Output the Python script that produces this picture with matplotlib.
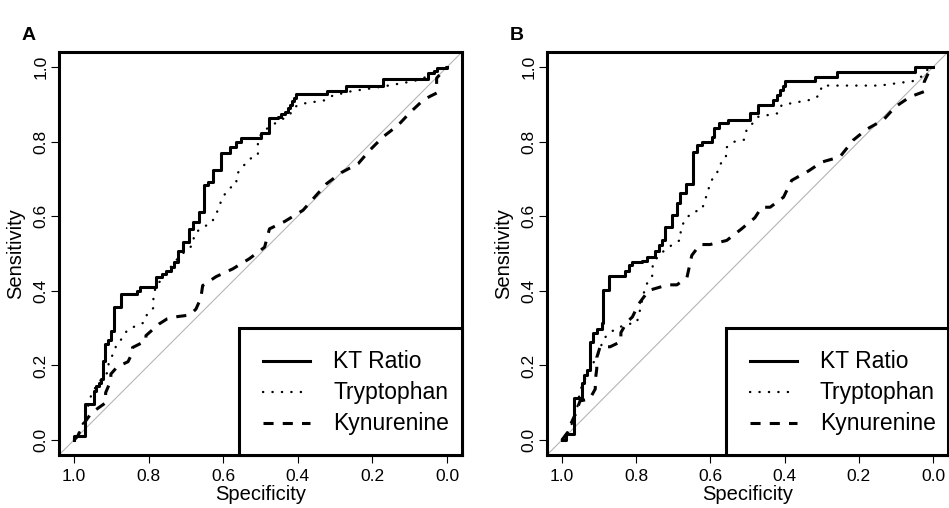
import matplotlib
matplotlib.use("Agg")
import matplotlib.pyplot as plt
from matplotlib.patches import Rectangle

plt.rcParams['font.family'] = ['Liberation Sans', 'DejaVu Sans']

# ---------------- data (specificity, sensitivity) ----------------
# Panel A
a_kt_spec = [1.0, 1.0, 0.970, 0.946, 0.940, 0.933, 0.928, 0.922, 0.917, 0.908, 0.901, 0.892, 0.875,
             0.830, 0.823, 0.780, 0.763, 0.754, 0.740, 0.731, 0.722, 0.709, 0.691, 0.682, 0.666,
             0.651, 0.642, 0.628, 0.606, 0.583, 0.565, 0.552, 0.498, 0.476, 0.452, 0.444, 0.435,
             0.426, 0.422, 0.415, 0.410, 0.404, 0.323, 0.270, 0.171, 0.050, 0.035, 0.028, 0.0]
a_kt_sens = [0.0, 0.010, 0.098, 0.132, 0.145, 0.154, 0.163, 0.212, 0.258, 0.269, 0.293, 0.356, 0.392,
             0.400, 0.409, 0.436, 0.445, 0.454, 0.463, 0.477, 0.508, 0.530, 0.566, 0.584, 0.611,
             0.683, 0.691, 0.723, 0.768, 0.786, 0.799, 0.809, 0.822, 0.862, 0.866, 0.873, 0.880,
             0.890, 0.898, 0.910, 0.918, 0.927, 0.935, 0.950, 0.968, 0.983, 0.990, 0.996, 1.0]

a_try_spec = [1.0, 0.99, 0.978, 0.965, 0.953, 0.940, 0.925, 0.910, 0.906, 0.892, 0.886, 0.870, 0.857,
              0.834, 0.812, 0.803, 0.787, 0.787, 0.780, 0.763, 0.731, 0.700, 0.682, 0.677, 0.655,
              0.633, 0.619, 0.610, 0.601, 0.585, 0.565, 0.564, 0.548, 0.530, 0.507, 0.507, 0.498,
              0.476, 0.450, 0.422, 0.409, 0.384, 0.325, 0.307, 0.256, 0.200, 0.146, 0.089, 0.050,
              0.030, 0.0]
a_try_sens = [0.0, 0.010, 0.038, 0.080, 0.123, 0.145, 0.165, 0.181, 0.212, 0.235, 0.257, 0.273, 0.295,
              0.306, 0.315, 0.340, 0.354, 0.385, 0.414, 0.432, 0.477, 0.508, 0.522, 0.553, 0.571,
              0.580, 0.604, 0.629, 0.651, 0.674, 0.685, 0.712, 0.732, 0.753, 0.763, 0.795, 0.822,
              0.840, 0.855, 0.871, 0.893, 0.902, 0.911, 0.923, 0.935, 0.943, 0.952, 0.962, 0.975,
              0.990, 1.0]

a_kyn_spec = [1.0, 0.99, 0.978, 0.955, 0.946, 0.915, 0.915, 0.901, 0.901, 0.885, 0.870, 0.855, 0.843,
              0.843, 0.807, 0.807, 0.772, 0.750, 0.722, 0.690, 0.673, 0.660, 0.655, 0.619, 0.574,
              0.530, 0.489, 0.476, 0.435, 0.386, 0.355, 0.323, 0.283, 0.238, 0.207, 0.171, 0.131,
              0.099, 0.064, 0.046, 0.028, 0.028, 0.010, 0.0]
a_kyn_sens = [0.0, 0.010, 0.038, 0.070, 0.078, 0.100, 0.127, 0.160, 0.177, 0.195, 0.203, 0.210, 0.235,
              0.248, 0.266, 0.280, 0.311, 0.325, 0.331, 0.335, 0.351, 0.380, 0.414, 0.438, 0.459,
              0.486, 0.517, 0.566, 0.586, 0.616, 0.651, 0.687, 0.717, 0.741, 0.777, 0.813, 0.844,
              0.878, 0.911, 0.921, 0.930, 0.970, 0.990, 1.0]

# Panel B
b_kt_spec = [1.0, 0.99, 0.968, 0.946, 0.940, 0.933, 0.924, 0.915, 0.906, 0.892, 0.888, 0.874, 0.829,
             0.820, 0.811, 0.785, 0.772, 0.749, 0.738, 0.731, 0.722, 0.704, 0.691, 0.682, 0.666,
             0.646, 0.637, 0.623, 0.596, 0.590, 0.576, 0.552, 0.493, 0.471, 0.430, 0.420, 0.412,
             0.405, 0.399, 0.318, 0.260, 0.049, 0.0]
b_kt_sens = [0.0, 0.016, 0.114, 0.154, 0.175, 0.187, 0.264, 0.288, 0.298, 0.315, 0.401, 0.441, 0.452,
             0.468, 0.477, 0.481, 0.490, 0.508, 0.522, 0.537, 0.571, 0.602, 0.634, 0.661, 0.687,
             0.772, 0.790, 0.799, 0.813, 0.835, 0.849, 0.859, 0.876, 0.898, 0.911, 0.925, 0.937,
             0.950, 0.962, 0.974, 0.987, 1.0, 1.0]

b_try_spec = [1.0, 0.985, 0.970, 0.960, 0.951, 0.935, 0.920, 0.906, 0.895, 0.888, 0.870, 0.852, 0.825,
              0.798, 0.791, 0.780, 0.771, 0.757, 0.755, 0.739, 0.718, 0.700, 0.680, 0.680, 0.668,
              0.648, 0.623, 0.615, 0.606, 0.599, 0.583, 0.576, 0.558, 0.558, 0.538, 0.509, 0.502,
              0.486, 0.473, 0.417, 0.408, 0.324, 0.305, 0.300, 0.143, 0.100, 0.055, 0.030, 0.020, 0.0]
b_try_sens = [0.0, 0.020, 0.050, 0.078, 0.132, 0.170, 0.200, 0.221, 0.250, 0.271, 0.288, 0.300, 0.310,
              0.315, 0.342, 0.392, 0.419, 0.436, 0.472, 0.495, 0.513, 0.525, 0.537, 0.566, 0.591,
              0.611, 0.617, 0.641, 0.669, 0.694, 0.712, 0.737, 0.755, 0.783, 0.799, 0.805, 0.833,
              0.849, 0.866, 0.876, 0.898, 0.913, 0.925, 0.950, 0.950, 0.956, 0.962, 0.975, 0.990, 1.0]

b_kyn_spec = [1.0, 0.985, 0.975, 0.964, 0.951, 0.925, 0.910, 0.910, 0.906, 0.906, 0.897, 0.870, 0.841,
              0.841, 0.825, 0.810, 0.793, 0.766, 0.715, 0.690, 0.663, 0.650, 0.628, 0.601, 0.556,
              0.516, 0.480, 0.462, 0.439, 0.403, 0.381, 0.336, 0.300, 0.251, 0.215, 0.179, 0.134,
              0.102, 0.062, 0.024, 0.024, 0.010, 0.0]
b_kyn_sens = [0.0, 0.020, 0.045, 0.069, 0.105, 0.110, 0.137, 0.159, 0.191, 0.221, 0.250, 0.250, 0.264,
              0.288, 0.316, 0.330, 0.365, 0.401, 0.416, 0.416, 0.436, 0.495, 0.524, 0.524, 0.535,
              0.566, 0.596, 0.624, 0.624, 0.651, 0.696, 0.721, 0.745, 0.759, 0.804, 0.833, 0.858,
              0.893, 0.920, 0.934, 0.960, 0.990, 1.0]

series_labels = ["KT Ratio", "Tryptophan", "Kynurenine"]
tick_values = [1.0, 0.8, 0.6, 0.4, 0.2, 0.0]
tick_labels = ["1.0", "0.8", "0.6", "0.4", "0.2", "0.0"]
panel_labels = ["A", "B"]

# ---------------- styles ----------------
styles = [
    dict(color="black", lw=2.2, linestyle="-"),
    dict(color="black", lw=1.7, linestyle=(0, (0.1, 3.9)), dash_capstyle="round"),
    dict(color="black", lw=2.2, linestyle=(0, (3.3, 3.0)), dash_capstyle="butt"),
]

fig = plt.figure(figsize=(9.49, 5.08), dpi=100)
W, H = 949.0, 508.0
axA = fig.add_axes([59 / W, (508 - 455) / H, 403 / W, 403 / H])
axB = fig.add_axes([547 / W, (508 - 455) / H, 401 / W, 403 / H])

panels = [
    (axA, [(a_kt_spec, a_kt_sens), (a_try_spec, a_try_sens), (a_kyn_spec, a_kyn_sens)]),
    (axB, [(b_kt_spec, b_kt_sens), (b_try_spec, b_try_sens), (b_kyn_spec, b_kyn_sens)]),
]

for (ax, curves), plabel in zip(panels, panel_labels):
    ax.set_xlim(1.04, -0.04)
    ax.set_ylim(-0.04, 1.04)
    ax.axline((1.0, 0.0), (0.0, 1.0), color="#b5b5b5", lw=0.8, zorder=1)
    for i, ((sx, sy), st) in enumerate(zip(curves, styles)):
        if i == 0:
            ax.step(sx, sy, where="post", zorder=3, **st)
        else:
            ax.plot(sx, sy, zorder=2, **st)
    ax.set_xticks(tick_values)
    ax.set_xticklabels(tick_labels)
    ax.set_yticks(tick_values[::-1])
    ax.set_yticklabels(tick_labels[::-1], rotation=90, va="center")
    ax.tick_params(axis="both", direction="out", length=6, width=0.8, labelsize=12.5)
    ax.tick_params(axis="y", pad=1.5)
    ax.tick_params(axis="x", pad=4)
    for sp in ax.spines.values():
        sp.set_linewidth(2.2)
    ax.set_xlabel("Specificity", fontsize=14.5, labelpad=1)
    ax.set_ylabel("Sensitivity", fontsize=14.5, labelpad=6)

    # legend (drawn manually, bottom-right, flush with the frame)
    ax.add_patch(Rectangle((0.447, 0.0), 0.553, 0.315, transform=ax.transAxes,
                           facecolor="white", edgecolor="black", lw=2.2, zorder=5,
                           clip_on=False))
    rows = [0.233, 0.156, 0.079]
    for lab, st, ry in zip(series_labels, styles, rows):
        ax.plot([0.506, 0.623], [ry, ry], transform=ax.transAxes, zorder=6, **st)
        ax.text(0.680, ry, lab, transform=ax.transAxes, fontsize=16.5,
                va="center", ha="left", zorder=6)

    pos = ax.get_position()
    fig.text(pos.x0 - 37 / W, 1 - 35 / H, plabel, fontsize=14, fontweight="bold",
             ha="left", va="center")

fig.savefig("out.png", dpi=100)
